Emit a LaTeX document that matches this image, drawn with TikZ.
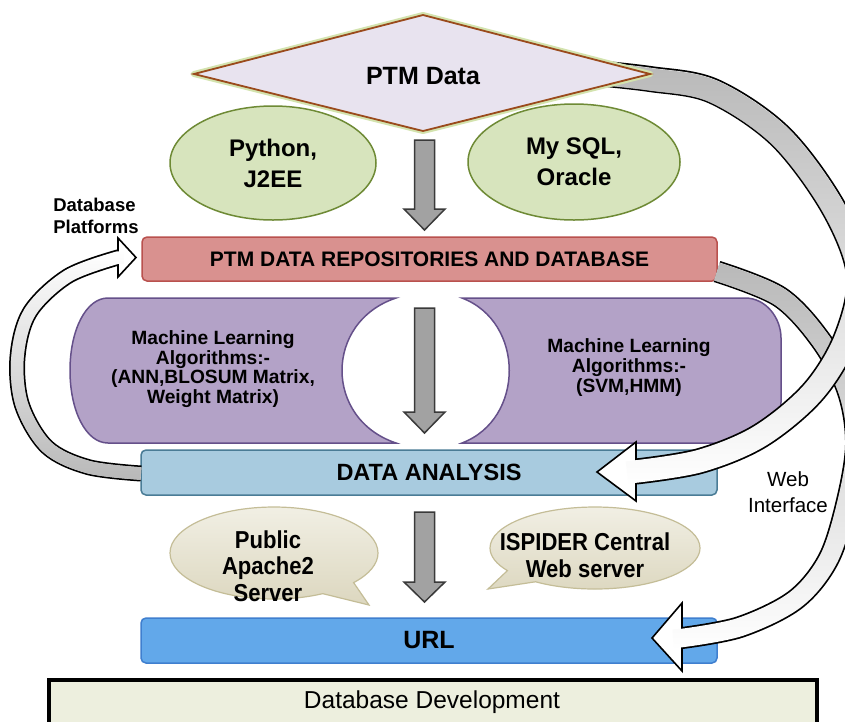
\documentclass[tikz,border=0pt]{standalone}
\usepackage{fontspec}
\setmainfont{Liberation Sans}
\newfontfamily\narrowfont[FakeStretch=0.9]{Liberation Sans}
\usetikzlibrary{shapes.geometric,shapes.callouts,fadings}

\definecolor{diaFill}{HTML}{E8E3EF}
\definecolor{diaLine}{HTML}{9A4A1C}
\definecolor{diaGlow}{HTML}{D3E3AE}
\definecolor{ellFill}{HTML}{D7E4BD}
\definecolor{ellLine}{HTML}{6E8A35}
\definecolor{repFill}{HTML}{D9918F}
\definecolor{repLine}{HTML}{B9514E}
\definecolor{purFill}{HTML}{B3A2C7}
\definecolor{purLine}{HTML}{65508A}
\definecolor{anaFill}{HTML}{A8CBDF}
\definecolor{anaLine}{HTML}{4A7C96}
\definecolor{calTop}{HTML}{F1EFE4}
\definecolor{calBot}{HTML}{DCD7BF}
\definecolor{calLine}{HTML}{C4BD97}
\definecolor{urlFill}{HTML}{62A8EA}
\definecolor{urlLine}{HTML}{3F7FCF}
\definecolor{devFill}{HTML}{EDEFDE}
\definecolor{blockGray}{HTML}{A2A2A2}
\definecolor{blockLine}{HTML}{3A3A3A}

\tikzfading[name=fadeDown, top color=transparent!0, bottom color=transparent!100]
\tikzfading[name=fadeUp, top color=transparent!100, bottom color=transparent!0]

\newcommand\grayDown[3]{\draw[blockarrow] (414.5,#1) -- (434.5,#1) -- (434.5,#2) -- (445,#2) -- (424.5,#3) -- (404,#2) -- (414.5,#2) -- cycle;}
\newcommand\bandOne[1]{\draw[#1] plot[smooth,tension=0.55] coordinates {(585,72) (650,79) (713,91) (780,136) (833,207) (859,275) (846,338) (813,392) (760,436) (700,461) (636,471.5)} -- (627,472.5);}
\newcommand\bandTwo[1]{\draw[#1] plot[smooth,tension=0.55] coordinates {(717,271.5) (780,297) (822,342) (848,392) (856,445) (846,505) (828,560) (795,600) (740,627) (682,638)} -- (673,638.5);}
\newcommand\bandThree[1]{\draw[#1] plot[smooth,tension=0.55] coordinates {(141,473.5) (88,467) (47,447) (22,405) (17.5,357) (30,312) (68,276) (118,257.5)} -- (124,257.5);}

\tikzset{
  blockarrow/.style={fill=blockGray, draw=blockLine, line width=1.5pt, line join=miter},
  headstyle/.style={fill=white, draw=black, line width=1.6pt, line join=miter},
  boxtext/.style={font=\bfseries\fontsize{21}{24}\selectfont, inner sep=0pt},
}

\begin{document}
\begin{tikzpicture}[x=1pt,y=-1pt]
\useasboundingbox (0,0) rectangle (845,721);
\clip (0,0) rectangle (845,721);
\fill[white] (0,0) rectangle (845,721);

% Database Development base
\draw[fill=devFill, draw=black, line width=3.5pt] (49,680) rectangle (817,745);
\node[font=\fontsize{24.5}{28}\selectfont, inner sep=0pt] (dev) at (432,702) {Database Development};

% repository box
\node[rectangle, rounded corners=5pt, minimum width=575pt, minimum height=44pt, fill=repFill, draw=repLine, line width=1.5pt, boxtext] (repo) at (429.5,259) {PTM DATA REPOSITORIES AND DATABASE};

% purple machine-learning halves
\draw[fill=purFill, draw=purLine, line width=1.5pt] (396,298) -- (108,298) .. controls (86,298) and (70,330) .. (70,370.5) .. controls (70,411) and (86,443) .. (108,443) -- (396,443) .. controls (324,419) and (324,322) .. (396,298) -- cycle;
\draw[fill=purFill, draw=purLine, line width=1.5pt] (462,298) -- (745,298) .. controls (766,298) and (781,318) .. (781,338) -- (781,402) .. controls (781,423) and (766,443) .. (745,443) -- (462,443) .. controls (525,419) and (525,322) .. (462,298) -- cycle;
\node[font=\bfseries\fontsize{19.2}{19.8}\selectfont, align=center, inner sep=0pt] (mlA) at (213,369) {Machine Learning\\Algorithms:-\\(ANN,BLOSUM Matrix,\\Weight Matrix)};
\node[font=\bfseries\fontsize{19.2}{20}\selectfont, align=center, inner sep=0pt] (mlB) at (629,368) {Machine Learning\\Algorithms:-\\(SVM,HMM)};

% data analysis
\node[rectangle, rounded corners=5pt, minimum width=576pt, minimum height=45pt, fill=anaFill, draw=anaLine, line width=1.5pt, font=\bfseries\fontsize{23.5}{26}\selectfont, inner sep=0pt] (ana) at (429,472.5) {DATA ANALYSIS};

% servers (callouts)
\node[ellipse callout, minimum width=208pt, minimum height=92pt, callout absolute pointer={(369,605)}, callout pointer arc=22, top color=calTop, bottom color=calBot, draw=calLine, line width=1.2pt] (apache) at (274,553) {};
\node[font=\narrowfont\bfseries\fontsize{24.5}{26.5}\selectfont, align=center, inner sep=0pt] (apacheT) at (268,566) {Public\\Apache2\\Server};
\node[ellipse callout, minimum width=210pt, minimum height=82pt, callout absolute pointer={(488,589)}, callout pointer arc=22, top color=calTop, bottom color=calBot, draw=calLine, line width=1.2pt] (ispider) at (595,548) {};
\node[font=\narrowfont\bfseries\fontsize{24.5}{26.5}\selectfont, align=center, inner sep=0pt] (ispiderT) at (585,555) {ISPIDER Central\\Web server};

% URL
\node[rectangle, rounded corners=5pt, minimum width=576pt, minimum height=45pt, fill=urlFill, draw=urlLine, line width=1.5pt, font=\bfseries\fontsize{25}{28}\selectfont, inner sep=0pt] (url) at (429,640.5) {URL};

% gray down arrows
\grayDown{140}{209}{230}
\grayDown{308}{412}{433}
\grayDown{512}{582}{602}

% curved block arrow: data analysis -> repository (left)
\bandThree{line width=16pt, black}
\draw[headstyle] (118,238) -- (136,257.5) -- (118,277) -- cycle;
\bandThree{line width=12.5pt, white}
\bandThree{line width=12.5pt, gray!55, path fading=fadeUp}

% curved block arrow: repository -> URL (right)
\bandTwo{line width=22pt, black}
\draw[headstyle] (682,603) -- (652,638) -- (682,671) -- cycle;
\bandTwo{line width=18.5pt, white}
\bandTwo{line width=18.5pt, gray!55, path fading=fadeDown}

% curved block arrow: PTM data -> data analysis
\bandOne{line width=26pt, black}
\draw[headstyle] (636,442) -- (597,472) -- (636,501) -- cycle;
\bandOne{line width=22.5pt, white}
\bandOne{line width=22.5pt, gray!55, path fading=fadeDown}

\node[font=\fontsize{20.5}{25.5}\selectfont, align=center, inner sep=0pt] (web) at (788,492) {Web\\Interface};

% PTM Data diamond
\draw[diaGlow, line width=6pt, line join=round] (423,15) -- (650,74) -- (423,131) -- (194,74) -- cycle;
\draw[fill=diaFill, draw=diaLine, line width=1.8pt, line join=miter] (423,15) -- (650,74) -- (423,131) -- (194,74) -- cycle;
\node[font=\bfseries\fontsize{25}{28}\selectfont, inner sep=0pt] (ptm) at (423,76) {PTM Data};

% platform ellipses
\node[ellipse, minimum width=206pt, minimum height=114pt, fill=ellFill, draw=ellLine, line width=1.5pt, font=\bfseries\fontsize{24}{31}\selectfont, align=center, inner sep=0pt] (py) at (273,163) {Python,\\J2EE};
\node[ellipse, minimum width=212pt, minimum height=116pt, fill=ellFill, draw=ellLine, line width=1.5pt, font=\bfseries\fontsize{24}{31}\selectfont, align=center, inner sep=0pt] (sql) at (574,162) {My SQL,\\Oracle};

\node[font=\bfseries\fontsize{18.5}{21.5}\selectfont, align=left, inner sep=0pt] (plat) at (96,216) {Database\\Platforms};
\end{tikzpicture}
\end{document}
